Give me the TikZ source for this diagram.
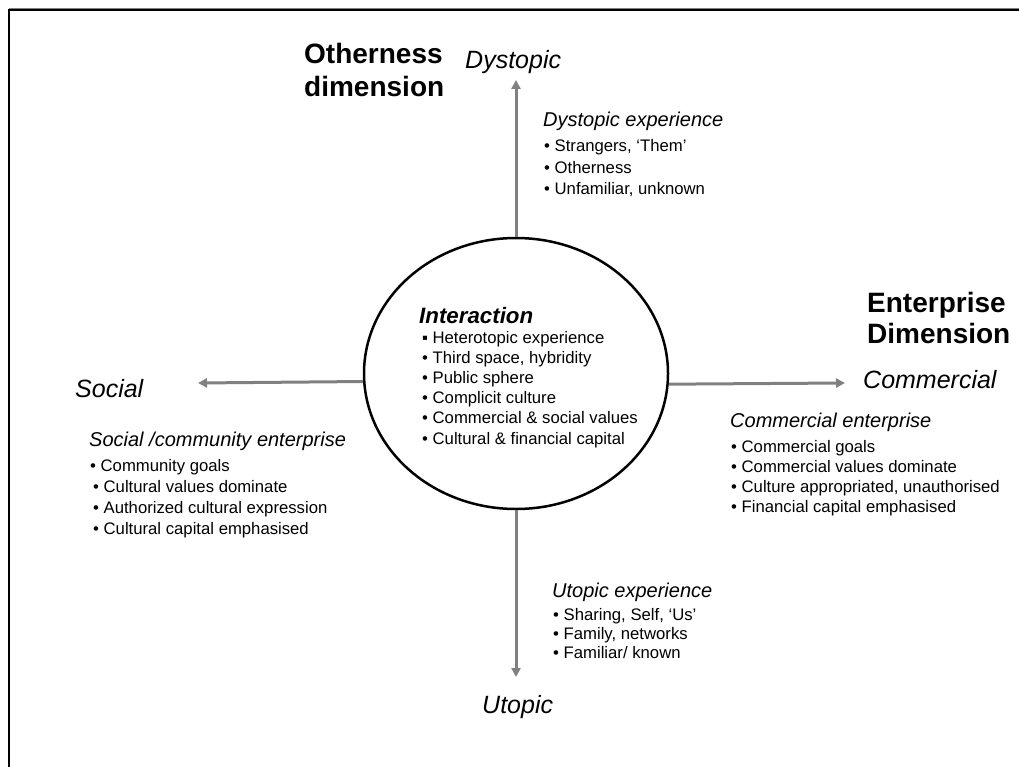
\documentclass[tikz,border=0pt]{standalone}
\usepackage{fontspec}
\setmainfont{Liberation Sans}
\usetikzlibrary{arrows.meta,shapes.geometric}
\definecolor{axisgray}{HTML}{808080}
\begin{document}
\begin{tikzpicture}[x=1pt,y=-1pt,
  axis/.style={draw=axisgray, line width=3pt, -{Triangle[length=9pt,width=9pt]}},
  dimtitle/.style={anchor=base west, inner sep=0pt, font=\fontsize{28}{30}\selectfont\bfseries},
  pole/.style={anchor=base west, inner sep=0pt, font=\fontsize{25}{28}\selectfont\itshape},
  head/.style={anchor=base west, inner sep=0pt, font=\fontsize{20}{24}\selectfont\itshape},
  item/.style={anchor=base west, inner sep=0pt, font=\fontsize{16.7}{20}\selectfont},
  core/.style={draw, ellipse, line width=2.5pt, inner sep=0pt,
               minimum width=304pt, minimum height=271pt},
]
\useasboundingbox (0,0) rectangle (1019,767);

% page frame (top and left edges)
\draw[axisgray, line width=1.2pt] (9,8.2) -- (1019,8.2);
\draw[black, line width=2.3pt] (9.2,767) -- (9.2,10) -- (1019,10);

% central ellipse
\node[core] (c) at (516,373.5) {};

% axis end points
\coordinate (dys) at (516,80);
\coordinate (uto) at (516,677);
\coordinate (soc) at (198,383);
\coordinate (com) at (845,383);

\draw[axis] (c.north) -- (dys);
\draw[axis] (c.south) -- (uto);
\draw[axis] (c.183.6) -- (soc);
\draw[axis] (c.356.4) -- (com);

% dimension titles
\node[dimtitle] (oth1) at (304,64) {Otherness};
\node[dimtitle] (oth2) at (304,97) {dimension};
\node[dimtitle] (ent1) at (867,312) {Enterprise};
\node[dimtitle] (ent2) at (867,343) {Dimension};

% pole labels
\node[pole] (pdys) at (465,69) {Dystopic};
\node[pole] (pcom) at (863,388) {Commercial};
\node[pole] (psoc) at (75,397) {Social};
\node[pole] (puto) at (482,713) {Utopic};

% dystopic experience
\node[head] (hdys) at (543,127) {Dystopic experience};
\foreach \t [count=\i] in {{Strangers, ‘Them’}, Otherness, {Unfamiliar, unknown}}
  \node[item] (dys\i) at (544,{152+21.5*(\i-1)}) {• \t};

% interaction
\node[anchor=base west, inner sep=0pt, font=\fontsize{22.3}{26}\selectfont\bfseries\itshape]
  (hint) at (419,323) {Interaction};
\node[item] (int1) at (422,343) {▪\hspace{4.5pt}Heterotopic experience};
\foreach \t [count=\i from 2] in {{Third space, hybridity}, Public sphere, Complicit culture,
    Commercial \& social values, Cultural \& financial capital}
  \node[item] (int\i) at (422,{343+20.2*(\i-1)}) {• \t};

% social / community enterprise
\node[head] (hsoc) at (89,446) {Social /community enterprise};
\foreach \t [count=\i] in {Community goals, Cultural values dominate,
    Authorized cultural expression, Cultural capital emphasised}
  \node[item] (soc\i) at ({ifthenelse(\i==1,90,93)},{471+21.3*(\i-1)}) {• \t};

% commercial enterprise
\node[head] (hcom) at (730,427) {Commercial enterprise};
\foreach \t [count=\i] in {Commercial goals, Commercial values dominate,
    {Culture appropriated, unauthorised}, Financial capital emphasised}
  \node[item] (com\i) at (731,{452+20.3*(\i-1)}) {• \t};

% utopic experience
\node[head] (huto) at (552,597) {Utopic experience};
\foreach \t [count=\i] in {{Sharing, Self, ‘Us’}, {Family, networks}, Familiar/ known}
  \node[item] (uto\i) at (553,{620+19*(\i-1)}) {• \t};
\end{tikzpicture}
\end{document}
